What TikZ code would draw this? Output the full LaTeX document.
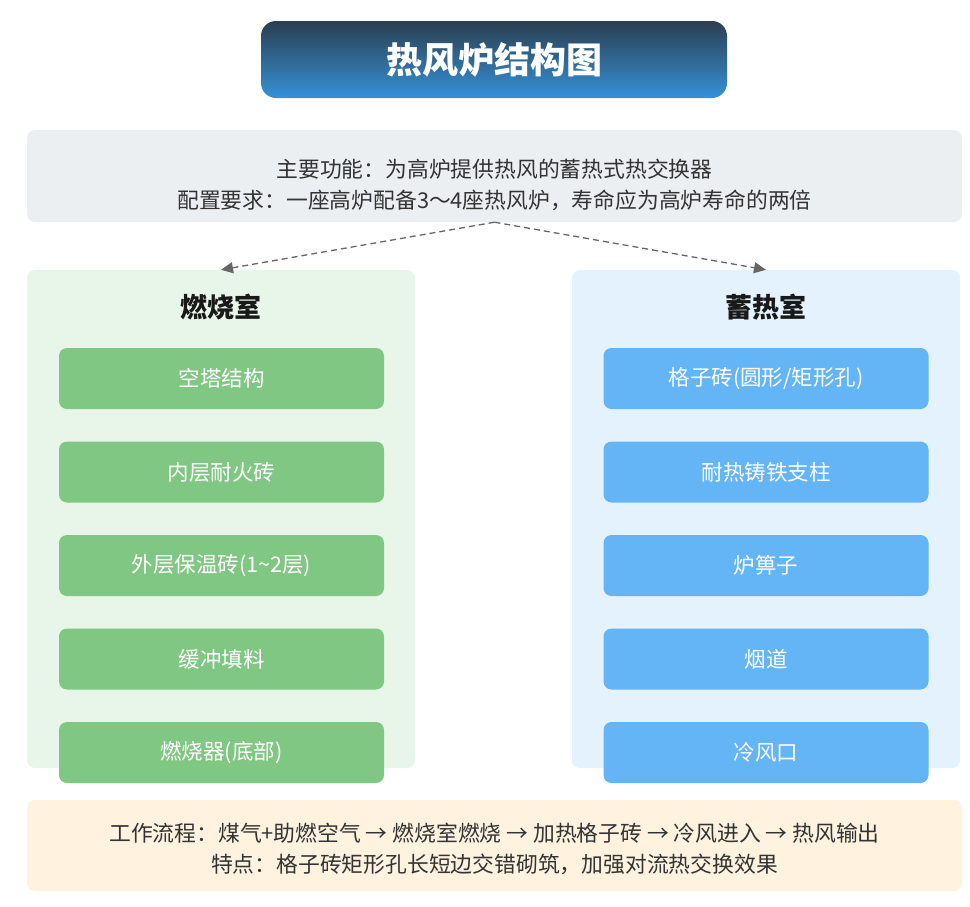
\documentclass[tikz,border=0pt]{standalone}
\usepackage{fontspec}
\setmainfont{Noto Sans CJK SC}
\usetikzlibrary{arrows.meta}

\definecolor{titletop}{HTML}{2C3E50}
\definecolor{titlebot}{HTML}{3492D8}
\definecolor{infogray}{HTML}{ECEFF1}
\definecolor{burnbg}{HTML}{E8F5E9}
\definecolor{heatbg}{HTML}{E3F2FD}
\definecolor{burngreen}{HTML}{81C784}
\definecolor{heatblue}{HTML}{64B5F6}
\definecolor{flowbg}{HTML}{FFF3E0}
\definecolor{txtdark}{HTML}{333333}

\tikzset{
  panel/.style={rounded corners=8pt, inner sep=0pt},
  part/.style={rounded corners=8pt, minimum width=325pt, minimum height=61pt,
    text=white, font=\fontsize{21.5}{26}\selectfont},
  burnpart/.style={part, fill=burngreen},
  heatpart/.style={part, fill=heatblue},
  infotext/.style={align=center, text=txtdark, font=\fontsize{21.8}{31}\selectfont},
  headtext/.style={font=\bfseries\fontsize{27}{32}\selectfont, text=black!90},
  linkarrow/.style={draw=black!60, dash pattern=on 6pt off 4pt, line width=1.3pt,
    -{Triangle[length=12pt,width=11pt]}}
}

\begin{document}
\begin{tikzpicture}[x=1pt,y=-1pt]
  \useasboundingbox (0,0) rectangle (970,906);

  % title
  \node[rounded corners=15pt, minimum width=466pt, minimum height=77pt,
    top color=titletop, bottom color=titlebot, text=white,
    font=\bfseries\fontsize{36}{42}\selectfont] (title) at (494,59.5) {热风炉结构图};

  % info
  \node[panel, fill=infogray, minimum width=935pt, minimum height=92pt] (info) at (494.5,176) {};
  \node[infotext] (infotxt) at (494.5,185) {主要功能：为高炉提供热风的蓄热式热交换器\\配置要求：一座高炉配备3～4座热风炉，寿命应为高炉寿命的两倍};

  % panels
  \node[panel, fill=burnbg, minimum width=388pt, minimum height=498pt] (burn) at (221,519) {};
  \node[panel, fill=heatbg, minimum width=388pt, minimum height=498pt] (heat) at (766,519) {};
  \node[headtext] (burnhead) at (221,307) {燃烧室};
  \node[headtext] (heathead) at (766,307) {蓄热室};

  \draw[linkarrow] (info.south) -- (burn.north);
  \draw[linkarrow] (info.south) -- (heat.north);

  % combustion chamber
  \node[burnpart] (b1) at (221.5,378.5) {空塔结构};
  \node[burnpart] (b2) at (221.5,472) {内层耐火砖};
  \node[burnpart] (b3) at (221.5,565.5) {外层保温砖(1\textasciitilde2层)};
  \node[burnpart] (b4) at (221.5,659) {缓冲填料};
  \node[burnpart] (b5) at (221.5,752.5) {燃烧器(底部)};

  % regenerator
  \node[heatpart] (h1) at (766,378.5) {格子砖(圆形/矩形孔)};
  \node[heatpart] (h2) at (766,472) {耐热铸铁支柱};
  \node[heatpart] (h3) at (766,565.5) {炉箅子};
  \node[heatpart] (h4) at (766,659) {烟道};
  \node[heatpart] (h5) at (766,752.5) {冷风口};

  % flow
  \node[panel, fill=flowbg, minimum width=935pt, minimum height=91pt] (flow) at (494.5,845.5) {};
  \node[infotext] (flowtxt) at (494.5,849) {工作流程：煤气+助燃空气 → 燃烧室燃烧 → 加热格子砖 → 冷风进入 → 热风输出\\特点：格子砖矩形孔长短边交错砌筑，加强对流热交换效果};
\end{tikzpicture}
\end{document}
